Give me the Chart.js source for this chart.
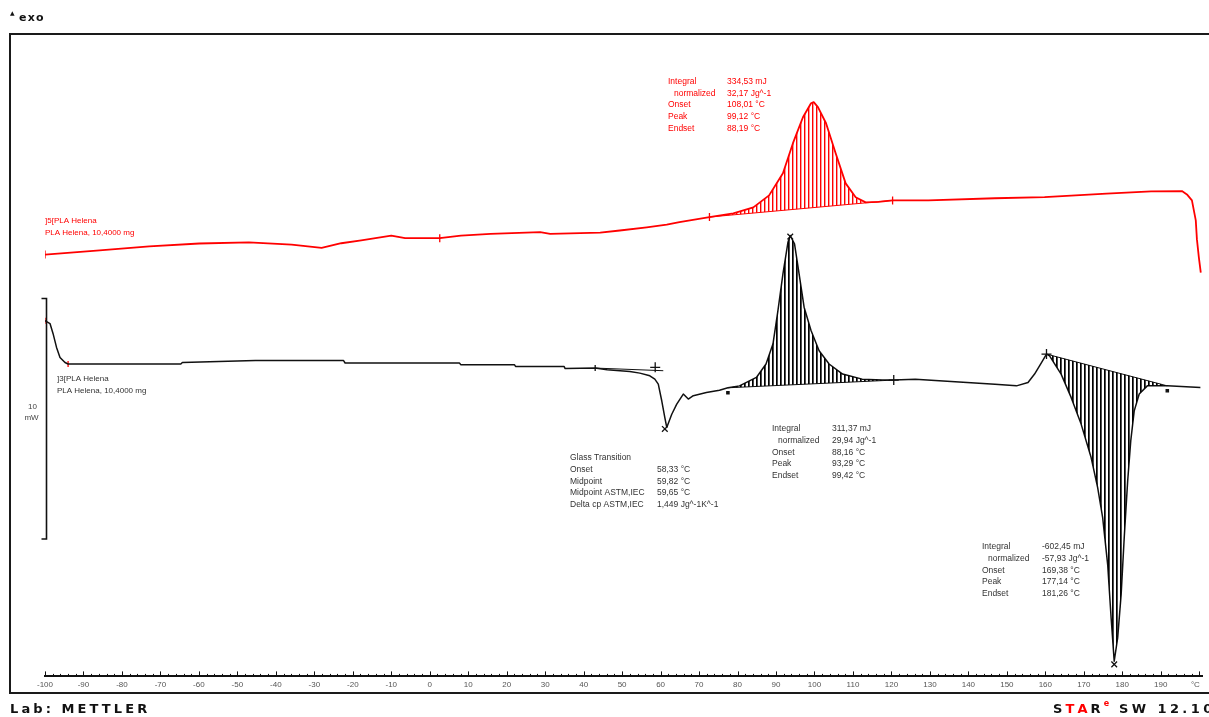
<!DOCTYPE html>
<html><head><meta charset="utf-8">
<script src="https://cdn.jsdelivr.net/npm/chart.js@4.4.1/dist/chart.umd.min.js"></script>
<style>html,body{margin:0;padding:0;background:#fff;overflow:hidden}#wrap{position:relative;width:1209px;height:717px}canvas{display:block}</style>
</head><body><div id="wrap"><canvas id="c" width="1209" height="717"></canvas></div>
<script>
// ---- axis ----
const X_TICKS = [-100,-90,-80,-70,-60,-50,-40,-30,-20,-10,0,10,20,30,40,50,60,70,80,90,100,110,120,130,140,150,160,170,180,190];
const X_UNIT = '°C';
const X_UNIT_AT = 199;

// ---- red curve (]5[ PLA Helena) : temperature °C / heat flow mW ----
const RED_T  = [-100,-85.8,-72.9,-59.9,-47.0,-35.9,-28.1,-23.0,-17.8,-10.0,-6.4,2.6,8.1,15.8,28.7,31.3,44.3,49.4,56.4,61.6,64.9,72.7,78.9,84.1,88.2,91.8,94.4,97.0,99.1,99.8,100.9,103.0,105.5,108.1,110.7,113.3,116.6,120.3,129.6,146.9,159.8,175.9,187.5,195.5,196.8,198.1,199.1,199.4,199.9,200.4];
const RED_MW = [17.54,17.71,17.88,18.00,18.05,17.95,17.82,18.01,18.13,18.33,18.22,18.22,18.33,18.40,18.47,18.40,18.45,18.54,18.67,18.78,18.89,19.10,19.25,19.50,20.00,20.92,22.17,23.25,23.83,23.88,23.67,23.00,21.75,20.50,19.92,19.71,19.73,19.79,19.79,19.88,19.93,20.07,20.17,20.18,20.04,19.79,18.96,18.17,17.42,16.79];

// ---- black curve (]3[ PLA Helena) ----
const BLK_T  = [-100,-98.7,-97.9,-97.0,-96.1,-94.8,-94.0,-64.7,-64.3,-45.3,-22.4,-22.0,7.7,8.1,22.0,22.3,34.9,35.2,43.0,46.1,52.0,54.6,57.2,58.5,59.4,60.3,61.1,61.6,62.9,64.2,65.9,67.2,68.5,71.9,75.3,77.5,80.5,84.9,87.4,89.2,90.5,91.8,93.1,93.7,94.8,96.0,97.3,99.1,101.2,103.8,107.3,112.4,117.6,120.6,126.2,146.9,152.5,155.5,157.2,159.0,160.3,161.1,164.1,166.7,169.3,171.9,173.6,174.9,176.2,177.1,177.9,178.8,179.7,180.5,181.4,182.2,183.1,184.4,186.5,190.0,191.7,200.3];
const BLK_MW = [14.79,14.67,14.25,13.68,13.26,13.05,12.99,12.99,13.05,13.13,13.13,13.03,13.03,12.96,12.96,12.89,12.89,12.80,12.82,12.75,12.68,12.61,12.50,12.36,12.15,11.46,10.76,10.35,10.90,11.32,11.74,11.53,11.67,11.80,11.90,12.00,12.08,12.43,12.99,13.82,15.21,16.74,18.05,18.33,17.99,16.74,15.35,14.38,13.54,12.99,12.57,12.36,12.32,12.32,12.35,12.15,12.08,12.22,12.57,13.05,13.40,13.33,12.57,11.60,10.49,9.10,7.85,6.60,4.65,2.43,0.63,1.60,3.40,5.76,8.13,9.79,11.04,11.74,12.08,12.08,12.08,12.01];

// ---- integration baselines [t1, t2], [mW1, mW2] ----
const RED_BASE_T = [72.7, 120.3],  RED_BASE_MW = [19.10, 19.79];
const EXO_BASE_T = [77.5, 120.6],  EXO_BASE_MW = [12.00, 12.32];
const ENDO_BASE_T = [160.3, 191.7], ENDO_BASE_MW = [13.40, 12.08];
const GT_TAN_T = [43.0, 60.7],     GT_TAN_MW = [12.82, 12.71];

// ---- evaluation markers ----
const RED_MARK_T = [-100, 2.6, 72.7, 120.3],  RED_MARK_MW = [17.54, 18.22, 19.10, 19.79];
const BLK_RED_MARK_T = [-100, -94.0],         BLK_RED_MARK_MW = [14.79, 12.99];
const BLK_VMARK_T = [43.0],                   BLK_VMARK_MW = [12.82];
const BLK_PLUS_T = [58.6, 120.6, 160.3],      BLK_PLUS_MW = [12.85, 12.32, 13.40];
const BLK_X_T = [61.1, 93.7, 177.9],          BLK_X_MW = [10.29, 18.29, 0.50];
const BLK_SQ_T = [77.5, 191.7],               BLK_SQ_MW = [11.79, 11.88];

// ---- scale bar ----
const SCALE_BAR_T = -99.7, SCALE_BAR_FROM = 5.71, SCALE_BAR_SPAN = 10;

// ---- texts ----
const RED_LABEL = [']5[PLA Helena', 'PLA Helena, 10,4000 mg'];
const BLK_LABEL = [']3[PLA Helena', 'PLA Helena, 10,4000 mg'];
const RED_RES = [['Integral','334,53 mJ'],['  normalized','32,17 Jg^-1'],['Onset','108,01 °C'],['Peak','99,12 °C'],['Endset','88,19 °C']];
const GT_RES = [['Glass Transition',''],['Onset','58,33 °C'],['Midpoint','59,82 °C'],['Midpoint ASTM,IEC','59,65 °C'],['Delta cp ASTM,IEC','1,449 Jg^-1K^-1']];
const EXO_RES = [['Integral','311,37 mJ'],['  normalized','29,94 Jg^-1'],['Onset','88,16 °C'],['Peak','93,29 °C'],['Endset','99,42 °C']];
const ENDO_RES = [['Integral','-602,45 mJ'],['  normalized','-57,93 Jg^-1'],['Onset','169,38 °C'],['Peak','177,14 °C'],['Endset','181,26 °C']];

const pts = (ts, ys) => ts.map((t, i) => ({x: t, y: ys[i]}));
const seg = (ts, ys, a, b) => pts(ts, ys).filter(p => p.x >= a && p.x <= b);

function hatch(color, w) {
  const c = document.createElement('canvas'); c.width = 4; c.height = 8;
  const g = c.getContext('2d'); g.fillStyle = color; g.fillRect(0, 0, w, 8);
  return g.createPattern(c, 'repeat');
}

const RED = '#ff0000', BLK = '#111111';
const lineDs = (data, color, w) => ({data, borderColor: color, borderWidth: w, pointRadius: 0, fill: false, tension: 0});
const markDs = (data, style, color, r, rot, fillColor) => ({data, showLine: false, pointStyle: style, pointRadius: r, pointRotation: rot || 0, borderColor: color, backgroundColor: fillColor || color, pointBorderWidth: 1.3});

const datasets = [
  {data: seg(RED_T, RED_MW, RED_BASE_T[0], RED_BASE_T[1]), borderWidth: 0, pointRadius: 0, fill: {target: 1}, backgroundColor: hatch(RED, 1.4)},
  lineDs(pts(RED_BASE_T, RED_BASE_MW), RED, 1),
  {data: seg(BLK_T, BLK_MW, EXO_BASE_T[0], EXO_BASE_T[1]), borderWidth: 0, pointRadius: 0, fill: {target: 3}, backgroundColor: hatch('#000', 1.7)},
  lineDs(pts(EXO_BASE_T, EXO_BASE_MW), BLK, 1),
  {data: seg(BLK_T, BLK_MW, ENDO_BASE_T[0], ENDO_BASE_T[1]), borderWidth: 0, pointRadius: 0, fill: {target: 5}, backgroundColor: hatch('#000', 1.7)},
  lineDs(pts(ENDO_BASE_T, ENDO_BASE_MW), BLK, 1),
  lineDs(pts(GT_TAN_T, GT_TAN_MW), BLK, 1),
  lineDs(pts(RED_T, RED_MW), RED, 1.8),
  lineDs(pts(BLK_T, BLK_MW), BLK, 1.5),
  markDs(pts(RED_MARK_T, RED_MARK_MW), 'line', RED, 4, 90),
  markDs(pts(BLK_RED_MARK_T, BLK_RED_MARK_MW), 'line', RED, 3, 90),
  markDs(pts(BLK_VMARK_T, BLK_VMARK_MW), 'line', BLK, 3, 90),
  markDs(pts(BLK_PLUS_T, BLK_PLUS_MW), 'cross', BLK, 5),
  markDs(pts(BLK_X_T, BLK_X_MW), 'crossRot', BLK, 4),
  markDs(pts(BLK_SQ_T, BLK_SQ_MW), 'rect', BLK, 1.6)
];

const SANS = '"Liberation Sans", Arial, sans-serif';
function txt(ctx, s, x, y, size, color, opts) {
  opts = opts || {};
  ctx.save();
  ctx.font = (opts.bold ? 'bold ' : '') + size + 'px ' + (opts.family || SANS);
  ctx.fillStyle = color; ctx.textAlign = opts.align || 'left'; ctx.textBaseline = 'middle';
  if (opts.spacing) ctx.letterSpacing = opts.spacing + 'px';
  ctx.fillText(s, x, y);
  const w = ctx.measureText(s).width;
  ctx.restore();
  return w;
}
function block(ctx, rows, x, vx, y0, dy, color) {
  rows.forEach((r, i) => {
    const lx = r[0].startsWith('  ') ? x + 6 : x;
    txt(ctx, r[0].trim(), lx, y0 + i * dy, 8.5, color);
    if (r[1]) txt(ctx, r[1], vx, y0 + i * dy, 8.5, color);
  });
}

const decor = {
  id: 'decor',
  afterDraw(chart) {
    const ctx = chart.ctx, xs = chart.scales.x, ys = chart.scales.y, ca = chart.chartArea;
    ctx.save();
    // frame
    ctx.strokeStyle = '#1a1a1a'; ctx.lineWidth = 2;
    ctx.beginPath();
    ctx.moveTo(1209, ca.top); ctx.lineTo(10, ca.top); ctx.lineTo(10, 693); ctx.lineTo(1209, 693);
    ctx.stroke();
    // axis tick marks (inside)
    ctx.lineWidth = 1; ctx.strokeStyle = '#111';
    for (let v = -100; v <= 200; v += 2) {
      const px = Math.round(xs.getPixelForValue(v)) + 0.5;
      const h = (v % 10 === 0) ? 5 : 2.5;
      ctx.beginPath(); ctx.moveTo(px, ca.bottom); ctx.lineTo(px, ca.bottom - h); ctx.stroke();
    }
    // scale bar
    const sx = Math.round(xs.getPixelForValue(SCALE_BAR_T)) + 0.5;
    const sy1 = ys.getPixelForValue(SCALE_BAR_FROM), sy2 = ys.getPixelForValue(SCALE_BAR_FROM + SCALE_BAR_SPAN);
    ctx.lineWidth = 1.6; ctx.strokeStyle = '#111';
    ctx.beginPath(); ctx.moveTo(sx - 5, sy2); ctx.lineTo(sx, sy2); ctx.lineTo(sx, sy1); ctx.lineTo(sx - 5, sy1); ctx.stroke();
    const smid = (sy1 + sy2) / 2;
    txt(ctx, '10', sx - 14, smid - 12, 8, '#444', {align: 'center'});
    txt(ctx, 'mW', sx - 15, smid - 1, 8, '#444', {align: 'center'});
    // unit on x axis
    txt(ctx, X_UNIT, xs.getPixelForValue(X_UNIT_AT), 685, 8, '#555', {align: 'center'});
    // curve labels
    txt(ctx, RED_LABEL[0], 45, 221, 8, RED); txt(ctx, RED_LABEL[1], 45, 233, 8, RED);
    txt(ctx, BLK_LABEL[0], 57, 379, 8, '#333'); txt(ctx, BLK_LABEL[1], 57, 391, 8, '#333');
    // result blocks
    block(ctx, RED_RES, 668, 727, 81.5, 11.8, RED);
    block(ctx, GT_RES, 570, 657, 458, 11.7, '#333');
    block(ctx, EXO_RES, 772, 832, 429, 11.6, '#333');
    block(ctx, ENDO_RES, 982, 1042, 547, 11.6, '#333');
    // header
    txt(ctx, '▲', 10, 13, 6, '#111', {family: '"DejaVu Sans", sans-serif'});
    txt(ctx, 'exo', 19, 18, 11, '#111', {bold: true, family: '"DejaVu Sans", sans-serif', spacing: 1.2});
    // footer
    const F = '"DejaVu Sans", sans-serif';
    txt(ctx, 'Lab: METTLER', 10, 710, 13, '#111', {bold: true, family: F, spacing: 3.1});
    let x = 1053;
    [['S', '#111'], ['T', RED], ['A', RED], ['R', '#111']].forEach(p => { x += txt(ctx, p[0], x, 710, 13, p[1], {bold: true, family: F, spacing: 3.1}); });
    x += txt(ctx, 'e', x, 704, 8, RED, {bold: true, family: F}) + 2;
    txt(ctx, ' SW 12.10', x, 710, 13, '#111', {bold: true, family: F, spacing: 3.4});
    ctx.restore();
  }
};

new Chart(document.getElementById('c'), {
  type: 'line',
  data: {datasets},
  options: {
    responsive: false, animation: false, devicePixelRatio: 1,
    layout: {padding: {left: 45, right: 0, top: 34, bottom: 23}},
    plugins: {legend: {display: false}, tooltip: {enabled: false}},
    elements: {line: {borderJoinStyle: 'round'}},
    scales: {
      x: {
        type: 'linear', min: -100, max: 200.9, position: 'bottom',
        afterBuildTicks: s => { s.ticks = X_TICKS.map(v => ({value: v})); },
        ticks: {autoSkip: false, maxRotation: 0, padding: 4, color: '#555', font: {family: 'Liberation Sans', size: 8}, callback: v => String(v)},
        grid: {display: false, drawTicks: false},
        border: {display: true, color: '#111', width: 2}
      },
      y: {type: 'linear', min: 0, max: 26.71, display: false}
    }
  },
  plugins: [decor]
});
</script>
</body></html>
